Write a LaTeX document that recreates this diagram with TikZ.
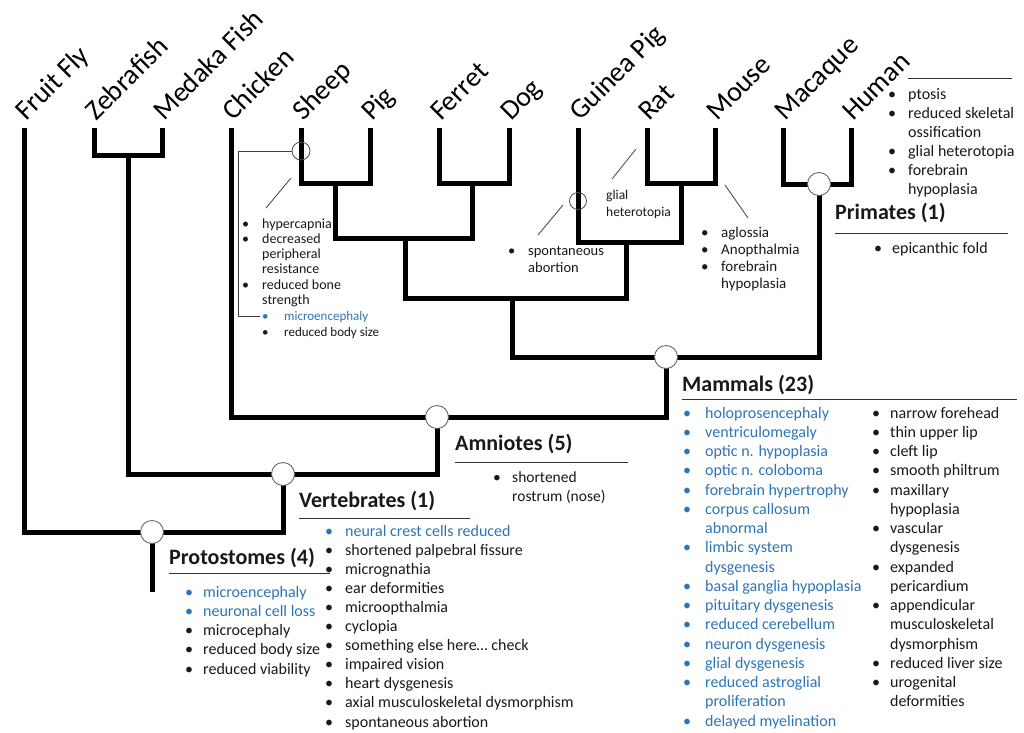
\documentclass[tikz,border=0pt]{standalone}
\usepackage{fontspec}
\setmainfont{Carlito}
\usepackage{array}
\definecolor{blu}{RGB}{46,117,182}
\definecolor{txt}{RGB}{25,25,25}
\newcommand{\mylist}[4]{{\fontsize{#1}{#2}\selectfont\begin{tabular}[t]{@{}p{#3}@{}l@{}}#4\end{tabular}}}
\newcommand{\bu}{\textbullet}
\newcommand{\bbu}{\textcolor{blu}{\textbullet}}
\newcommand{\bt}[1]{\textcolor{blu}{#1}}
\begin{document}
\begin{tikzpicture}[x=1pt,y=-1pt,
 tree/.style={line width=5pt,line join=miter,draw=black},
 bigc/.style={circle,draw=black!60,line width=0.9pt,fill=white,minimum size=23pt,inner sep=0pt},
 smallc/.style={circle,draw=black!70,line width=0.8pt,minimum size=17pt,inner sep=0pt},
 leaf/.style={rotate=45,anchor=base west,inner sep=0pt,font=\fontsize{28}{30}\selectfont},
 grp/.style={anchor=base west,inner sep=0pt,text=txt,font=\bfseries\fontsize{22}{26}\selectfont},
 lst/.style={anchor=base west,inner sep=0pt,text=txt},
 thinl/.style={line width=0.8pt,draw=black!75},
 rulel/.style={line width=0.9pt,draw=black!80}]
\useasboundingbox[fill=white] (0,0) rectangle (1024,732);

% leaf tops
\coordinate (ff) at (24,128);
\coordinate (zf) at (94,128);
\coordinate (mf) at (162,128);
\coordinate (ch) at (231,128);
\coordinate (sh) at (301,128);
\coordinate (pg) at (370,128);
\coordinate (fe) at (439,128);
\coordinate (dg) at (509,128);
\coordinate (gp) at (578,128);
\coordinate (rt) at (647,128);
\coordinate (ms) at (715,128);
\coordinate (mq) at (783,128);
\coordinate (hu) at (851,128);
% internal
\coordinate (fish) at (128,155);
\coordinate (sp) at (335,183);
\coordinate (fd) at (472,183);
\coordinate (spfd) at (405,238);
\coordinate (rm) at (681,183);
\coordinate (gprm) at (626,242);
\coordinate (laur) at (512,298);
\coordinate (prim) at (819,184);
\coordinate (mamm) at (666,357);
\coordinate (amn) at (437,417);
\coordinate (vert) at (283,474);
\coordinate (prot) at (152,532);
\coordinate (root) at (152,592);

% tree
\draw[tree] (zf) |- (fish) -| (mf);
\draw[tree] (sh) |- (sp) -| (pg);
\draw[tree] (fe) |- (fd) -| (dg);
\draw[tree] (sp) |- (spfd) -| (fd);
\draw[tree] (rt) |- (rm) -| (ms);
\draw[tree] (gp) |- (gprm) -| (rm);
\draw[tree] (spfd) |- (laur) -| (gprm);
\draw[tree] (mq) |- (prim) -| (hu);
\draw[tree] (laur) |- (mamm) -| (prim);
\draw[tree] (ch) |- (amn) -| (mamm);
\draw[tree] (fish) |- (vert) -| (amn);
\draw[tree] (ff) |- (prot) -| (vert);
\draw[tree] (prot) -- (root);

% circles
\node[bigc] (cprim) at (prim) {};
\node[bigc] (cmamm) at (mamm) {};
\node[bigc] (camn) at (amn) {};
\node[bigc] (cvert) at (vert) {};
\node[bigc] (cprot) at (prot) {};
\node[smallc,minimum size=18pt] (csh) at (301,151) {};
\node[smallc] (cgp) at (578,201) {};

% leaf labels
\node[leaf] (lff) at (26,122) {Fruit Fly};
\node[leaf] (lzf) at (96,122) {Zebrafish};
\node[leaf] (lmf) at (164,122) {Medaka Fish};
\node[leaf] (lch) at (233,122) {Chicken};
\node[leaf] (lsh) at (303,122) {Sheep};
\node[leaf] (lpg) at (372,122) {Pig};
\node[leaf] (lfe) at (441,122) {Ferret};
\node[leaf] (ldg) at (511,122) {Dog};
\node[leaf] (lgp) at (580,122) {Guinea Pig};
\node[leaf] (lrt) at (649,122) {Rat};
\node[leaf] (lms) at (717,122) {Mouse};
\node[leaf] (lmq) at (785,122) {Macaque};
\node[leaf] (lhu) at (853,122) {Human};

% thin annotation lines
\coordinate (shA) at (238,151);
\coordinate (shB) at (238,316);
\coordinate (shC) at (260,316);
\draw[thinl] (csh.west) -- (shA) -- (shB) -- (shC);
\coordinate (s1a) at (291,178); \coordinate (s1b) at (266,208);
\draw[thinl] (s1a) -- (s1b);
\coordinate (s2a) at (563,205); \coordinate (s2b) at (538,235);
\draw[thinl] (s2a) -- (s2b);
\coordinate (s3a) at (636,149); \coordinate (s3b) at (612,179);
\draw[thinl] (s3a) -- (s3b);
\coordinate (s4a) at (725,185); \coordinate (s4b) at (748,218);
\draw[thinl] (s4a) -- (s4b);

% small lists
\node[lst] (lsheep) at (242,228) {\mylist{14}{15.3}{20pt}{\bu & hypercapnia\\ \bu & decreased\\ & peripheral\\ & resistance\\ \bu & reduced bone\\ & strength}};
\node[lst] (lsheep2) at (262,320) {\mylist{13}{16}{22pt}{\bbu & \bt{microencephaly}\\ \bu & reduced body size}};
\node[lst] (lglial) at (606,199) {\mylist{13.5}{17}{0pt}{& glial\\ & heterotopia}};
\node[lst] (lspont) at (508,255) {\mylist{14.5}{17.5}{20pt}{\bu & spontaneous\\ & abortion}};
\node[lst] (lagl) at (701,237) {\mylist{15}{17.3}{20pt}{\bu & aglossia\\ \bu & Anopthalmia\\ \bu & forebrain\\ & hypoplasia}};
\node[lst] (lhum) at (888,99) {\mylist{16}{19}{20pt}{\bu & ptosis\\ \bu & reduced skeletal\\ & ossification\\ \bu & glial heterotopia\\ \bu & forebrain\\ & hypoplasia}};
\draw[rulel] (908,78) -- (1012,78);

% Primates
\node[grp] (gprim) at (835,219) {Primates (1)};
\draw[rulel] (835,233) -- (1008,233);
\node[lst] (lprim) at (874,253) {\mylist{16}{19}{18pt}{\bu & epicanthic fold}};

% Mammals
\node[grp] (gmamm) at (682,391) {Mammals (23)};
\draw[rulel] (682,399) -- (1017,399);
\node[lst] (lmamm1) at (683,418) {\mylist{16}{19.25}{22pt}{\bbu & \bt{holoprosencephaly}\\ \bbu & \bt{ventriculomegaly}\\ \bbu & \bt{optic n. hypoplasia}\\ \bbu & \bt{optic n. coloboma}\\ \bbu & \bt{forebrain hypertrophy}\\ \bbu & \bt{corpus callosum}\\ & \bt{abnormal}\\ \bbu & \bt{limbic system}\\ & \bt{dysgenesis}\\ \bbu & \bt{basal ganglia hypoplasia}\\ \bbu & \bt{pituitary dysgenesis}\\ \bbu & \bt{reduced cerebellum}\\ \bbu & \bt{neuron dysgenesis}\\ \bbu & \bt{glial dysgenesis}\\ \bbu & \bt{reduced astroglial}\\ & \bt{proliferation}\\ \bbu & \bt{delayed myelination}}};
\node[lst] (lmamm2) at (872,418) {\mylist{16}{19.25}{18pt}{\bu & narrow forehead\\ \bu & thin upper lip\\ \bu & cleft lip\\ \bu & smooth philtrum\\ \bu & maxillary\\ & hypoplasia\\ \bu & vascular\\ & dysgenesis\\ \bu & expanded\\ & pericardium\\ \bu & appendicular\\ & musculoskeletal\\ & dysmorphism\\ \bu & reduced liver size\\ \bu & urogenital\\ & deformities}};

% Amniotes
\node[grp] (gamn) at (455,450) {Amniotes (5)};
\draw[rulel] (455,462) -- (628,462);
\node[lst] (lamn) at (493,482) {\mylist{15.5}{19}{19pt}{\bu & shortened\\ & rostrum (nose)}};

% Vertebrates
\node[grp] (gvert) at (299,507) {Vertebrates (1)};
\draw[rulel] (299,518) -- (470,518);
\node[lst] (lvert) at (325,536) {\mylist{16}{19.1}{20pt}{\bbu & \bt{neural crest cells reduced}\\ \bu & shortened palpebral fissure\\ \bu & micrognathia\\ \bu & ear deformities\\ \bu & microopthalmia\\ \bu & cyclopia\\ \bu & something else here\ldots\ check\\ \bu & impaired vision\\ \bu & heart dysgenesis\\ \bu & axial musculoskeletal dysmorphism\\ \bu & spontaneous abortion}};

% Protostomes
\node[grp] (gprot) at (169,564) {Protostomes (4)};
\draw[rulel] (169,573) -- (330,573);
\node[lst] (lprot) at (185,597) {\mylist{16}{19.25}{18pt}{\bbu & \bt{microencephaly}\\ \bbu & \bt{neuronal cell loss}\\ \bu & microcephaly\\ \bu & reduced body size\\ \bu & reduced viability}};
\end{tikzpicture}
\end{document}
